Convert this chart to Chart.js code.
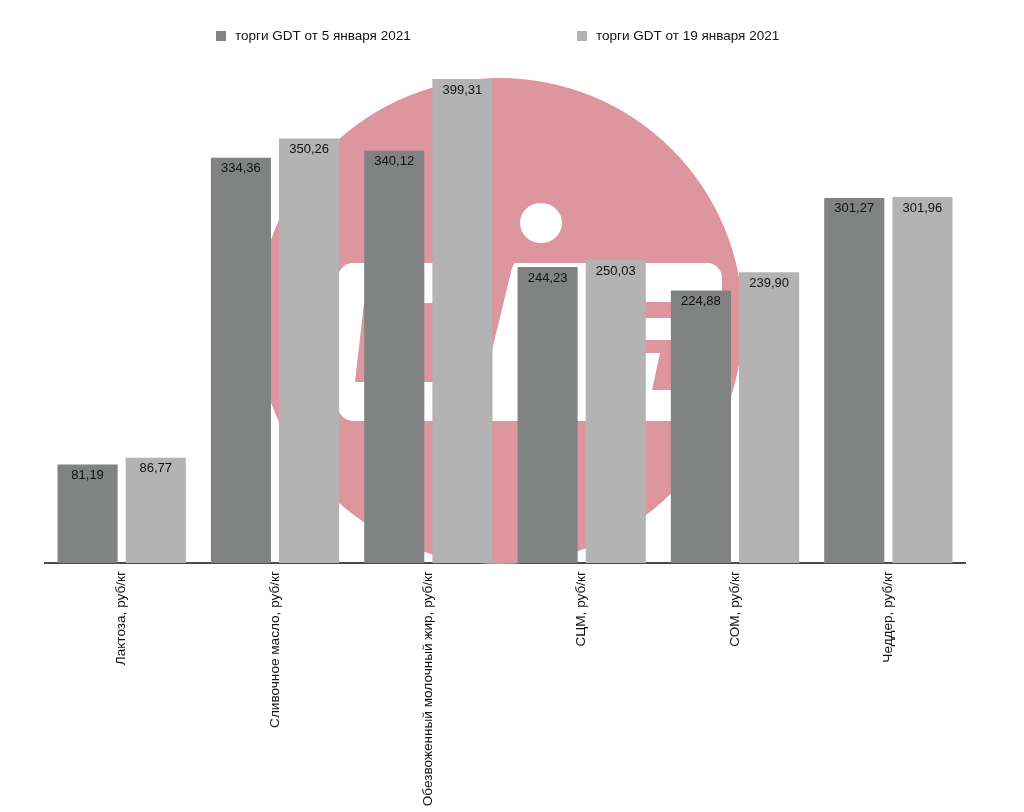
<!DOCTYPE html>
<html>
<head>
<meta charset="utf-8">
<script src="https://cdn.jsdelivr.net/npm/chart.js@4/dist/chart.umd.min.js"></script>
<style>
html,body{margin:0;padding:0;background:#fff;}
#wrap{width:1024px;height:812px;position:relative;}
</style>
</head>
<body>
<div id="wrap"><canvas id="c" width="1024" height="812"></canvas></div>
<script>
const categories = [
  "Лактоза, руб/кг",
  "Сливочное масло, руб/кг",
  "Обезвоженный молочный жир, руб/кг",
  "СЦМ, руб/кг",
  "СОМ, руб/кг",
  "Чеддер, руб/кг"
];
const seriesNames = ["торги GDT от 5 января 2021", "торги GDT от 19 января 2021"];
const jan5 = [81.19, 334.36, 340.12, 244.23, 224.88, 301.27];
const jan19 = [86.77, 350.26, 399.31, 250.03, 239.90, 301.96];
const seriesColors = ["#808381", "#b3b3b3"];

const FONT = '"Liberation Sans", Arial, Helvetica, sans-serif';
const PINK = '#dd959e';

const watermark = {
  id: 'watermark',
  beforeDatasetsDraw(chart) {
    const ctx = chart.ctx;
    ctx.save();
    ctx.fillStyle = PINK;
    ctx.beginPath();
    ctx.arc(500, 321, 243, 0, Math.PI * 2);
    ctx.fill();
    ctx.beginPath();
    ctx.arc(500, 321, 243, 0, Math.PI * 2);
    ctx.clip();
    ctx.fillStyle = '#ffffff';
    ctx.beginPath();
    if (ctx.roundRect) ctx.roundRect(338, 263, 384, 158, 15); else ctx.rect(338, 263, 384, 158);
    ctx.fill();
    ctx.beginPath();
    ctx.ellipse(541, 223, 21, 20, 0, 0, Math.PI * 2);
    ctx.fill();
    ctx.fillStyle = PINK;
    ctx.beginPath();
    ctx.moveTo(355, 382); ctx.lineTo(470, 382); ctx.lineTo(470, 303); ctx.lineTo(364, 303);
    ctx.closePath(); ctx.fill();
    ctx.beginPath();
    ctx.moveTo(490, 262); ctx.lineTo(515, 262); ctx.lineTo(512, 268); ctx.lineTo(492, 350); ctx.lineTo(490, 350);
    ctx.closePath(); ctx.fill();
    ctx.fillRect(643, 302, 60, 16);
    ctx.beginPath();
    ctx.moveTo(643, 340); ctx.lineTo(705, 340); ctx.lineTo(695, 390); ctx.lineTo(652, 390);
    ctx.lineTo(660, 353); ctx.lineTo(643, 353);
    ctx.closePath(); ctx.fill();
    ctx.restore();
  }
};

const customLegend = {
  id: 'customLegend',
  afterDraw(chart) {
    const ctx = chart.ctx;
    const pos = [216, 577];
    ctx.save();
    ctx.font = '13.5px ' + FONT;
    ctx.textBaseline = 'middle';
    ctx.textAlign = 'left';
    chart.data.datasets.forEach((ds, i) => {
      ctx.fillStyle = ds.backgroundColor;
      ctx.fillRect(pos[i], 31, 10, 10);
      ctx.fillStyle = '#111';
      ctx.fillText(ds.label, pos[i] + 19, 36);
    });
    ctx.restore();
  }
};

const valueLabels = {
  id: 'valueLabels',
  afterDatasetsDraw(chart) {
    const ctx = chart.ctx;
    ctx.save();
    ctx.font = '13px ' + FONT;
    ctx.fillStyle = '#111';
    ctx.textAlign = 'center';
    ctx.textBaseline = 'middle';
    chart.data.datasets.forEach((ds, di) => {
      const meta = chart.getDatasetMeta(di);
      meta.data.forEach((bar, i) => {
        const txt = ds.data[i].toFixed(2).replace('.', ',');
        ctx.fillText(txt, bar.x, bar.y + 11);
      });
    });
    ctx.restore();
  }
};

new Chart(document.getElementById('c'), {
  type: 'bar',
  data: {
    labels: categories,
    datasets: [
      { label: seriesNames[0], data: jan5, backgroundColor: seriesColors[0], categoryPercentage: 0.889, barPercentage: 0.882 },
      { label: seriesNames[1], data: jan19, backgroundColor: seriesColors[1], categoryPercentage: 0.889, barPercentage: 0.882 }
    ]
  },
  options: {
    responsive: false,
    animation: false,
    layout: { padding: { left: 45, right: 59, top: 54, bottom: 0 } },
    plugins: { legend: { display: false }, tooltip: { enabled: false } },
    scales: {
      x: {
        grid: { display: false, drawTicks: false },
        border: { display: true, color: '#4a4a4a', width: 2 },
        ticks: {
          color: '#111', font: { family: FONT, size: 13.6 },
          minRotation: 90, maxRotation: 90, padding: 8, autoSkip: false
        },
        afterFit(scale) { scale.height = 249; }
      },
      y: {
        display: false, min: 0, max: 420
      }
    }
  },
  plugins: [watermark, valueLabels, customLegend]
});
</script>
</body>
</html>
